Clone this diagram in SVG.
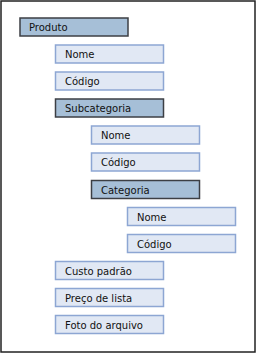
<svg xmlns="http://www.w3.org/2000/svg" width="257" height="355" viewBox="0 0 257 355">
<style>
.frame{fill:#fff;stroke:#222;stroke-width:1.5}
.l rect{fill:#e1e8f4;stroke:#8da6d3;stroke-width:1.5}
.d rect{fill:#a6bfd7;stroke:#3c3f44;stroke-width:1.5}
text{font-family:"DejaVu Sans",Verdana,sans-serif;font-size:10px;fill:#111}
</style>
<rect class="frame" x="1" y="1" width="254" height="351"/>
<g id="produto" class="d"><rect x="20" y="18" width="108" height="18"/><text x="29" y="31">Produto</text></g>
<g id="nome1" class="l"><rect x="55.5" y="45" width="108" height="18"/><text x="65" y="58">Nome</text></g>
<g id="codigo1" class="l"><rect x="55.5" y="72" width="108" height="18"/><text x="65" y="85">Código</text></g>
<g id="subcategoria" class="d"><rect x="55.5" y="99" width="108" height="18"/><text x="65" y="112">Subcategoria</text></g>
<g id="nome2" class="l"><rect x="91.5" y="126" width="108" height="18"/><text x="101" y="139">Nome</text></g>
<g id="codigo2" class="l"><rect x="91.5" y="153" width="108" height="18"/><text x="101" y="166">Código</text></g>
<g id="categoria" class="d"><rect x="91.5" y="180.5" width="108" height="18"/><text x="101" y="193.5">Categoria</text></g>
<g id="nome3" class="l"><rect x="127.5" y="207.5" width="108" height="18"/><text x="137" y="220.5">Nome</text></g>
<g id="codigo3" class="l"><rect x="127.5" y="234.5" width="108" height="18"/><text x="137" y="247.5">Código</text></g>
<g id="custo" class="l"><rect x="55.5" y="261.5" width="108" height="18"/><text x="65" y="274.5">Custo padrão</text></g>
<g id="preco" class="l"><rect x="55.5" y="288.5" width="108" height="18"/><text x="65" y="301.5">Preço de lista</text></g>
<g id="foto" class="l"><rect x="55.5" y="315.5" width="108" height="18"/><text x="65" y="328.5">Foto do arquivo</text></g>
<g id="connectors"></g>
</svg>
